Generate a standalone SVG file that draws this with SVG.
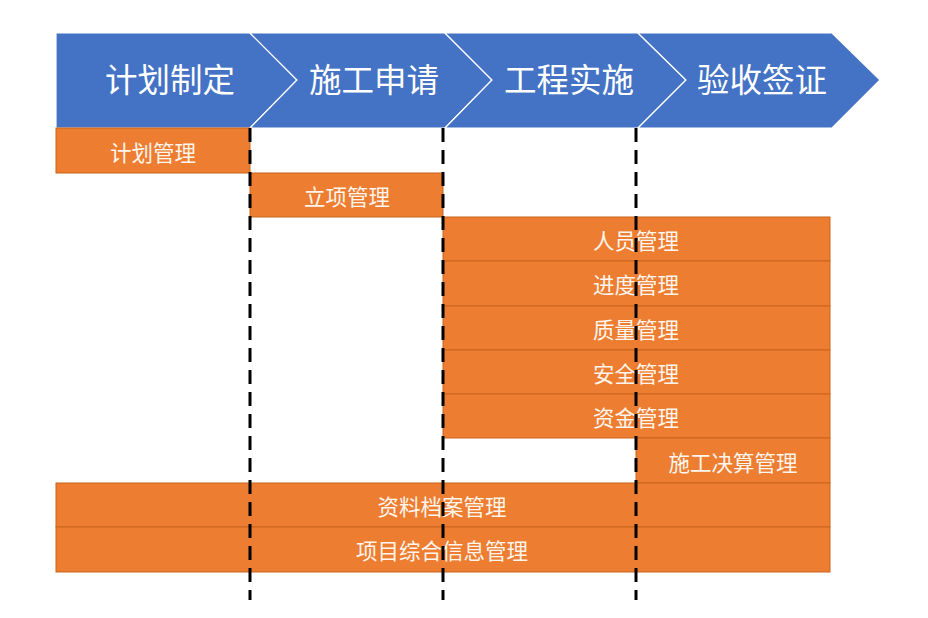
<svg xmlns="http://www.w3.org/2000/svg" width="928" height="618" viewBox="0 0 928 618">
<style>
.chev{fill:#4472C4;stroke:#ffffff;stroke-width:1.2}
.head{font-family:"Noto Sans CJK SC","Liberation Sans",sans-serif;font-size:32.5px;fill:#ffffff;text-anchor:middle}
.bar{fill:#ED7D31;stroke:#C9651F;stroke-width:1}
.lbl{font-family:"Noto Sans CJK SC","Liberation Sans",sans-serif;font-size:21.5px;fill:#FFF5EC;text-anchor:middle;dominant-baseline:central}
.dash{stroke:#000000;stroke-width:3;stroke-dasharray:14 8;fill:none}
</style>
<rect width="928" height="618" fill="#ffffff"/>
<g id="stage1"><polygon class="chev" points="56,33 250,33 297,80 250,128 56,128"/><text class="head" x="170" y="92">计划制定</text></g>
<g id="stage2"><polygon class="chev" points="250,33 445,33 492,80 445,128 250,128 297,80"/><text class="head" x="374" y="92">施工申请</text></g>
<g id="stage3"><polygon class="chev" points="445,33 638,33 686,80 638,128 445,128 492,80"/><text class="head" x="569" y="92">工程实施</text></g>
<g id="stage4"><polygon class="chev" points="638,33 832,33 880,80 832,128 638,128 686,80"/><text class="head" x="762" y="92">验收签证</text></g>
<g id="plan"><rect class="bar" x="56" y="128" width="194" height="45"/><text class="lbl" x="153" y="151">计划管理</text></g>
<g id="project"><rect class="bar" x="250" y="173" width="193" height="44"/><text class="lbl" x="347" y="195">立项管理</text></g>
<g id="staff"><rect class="bar" x="443" y="217" width="387" height="44"/><text class="lbl" x="636" y="239">人员管理</text></g>
<g id="progress"><rect class="bar" x="443" y="261" width="387" height="45"/><text class="lbl" x="636" y="283">进度管理</text></g>
<g id="quality"><rect class="bar" x="443" y="306" width="387" height="44"/><text class="lbl" x="636" y="328">质量管理</text></g>
<g id="safety"><rect class="bar" x="443" y="350" width="387" height="44"/><text class="lbl" x="636" y="372">安全管理</text></g>
<g id="funds"><rect class="bar" x="443" y="394" width="387" height="44"/><text class="lbl" x="636" y="416">资金管理</text></g>
<g id="settle"><rect class="bar" x="636" y="438" width="194" height="45"/><text class="lbl" x="733" y="461">施工决算管理</text></g>
<g id="archive"><rect class="bar" x="56" y="483" width="774" height="44"/><text class="lbl" x="442" y="505">资料档案管理</text></g>
<g id="info"><rect class="bar" x="56" y="527" width="774" height="45"/><text class="lbl" x="442" y="549">项目综合信息管理</text></g>
<g id="connectors">
<line class="dash" x1="250" y1="128" x2="250" y2="600"/>
<line class="dash" x1="443" y1="128" x2="443" y2="600"/>
<line class="dash" x1="636" y1="128" x2="636" y2="600"/>
</g>
</svg>
